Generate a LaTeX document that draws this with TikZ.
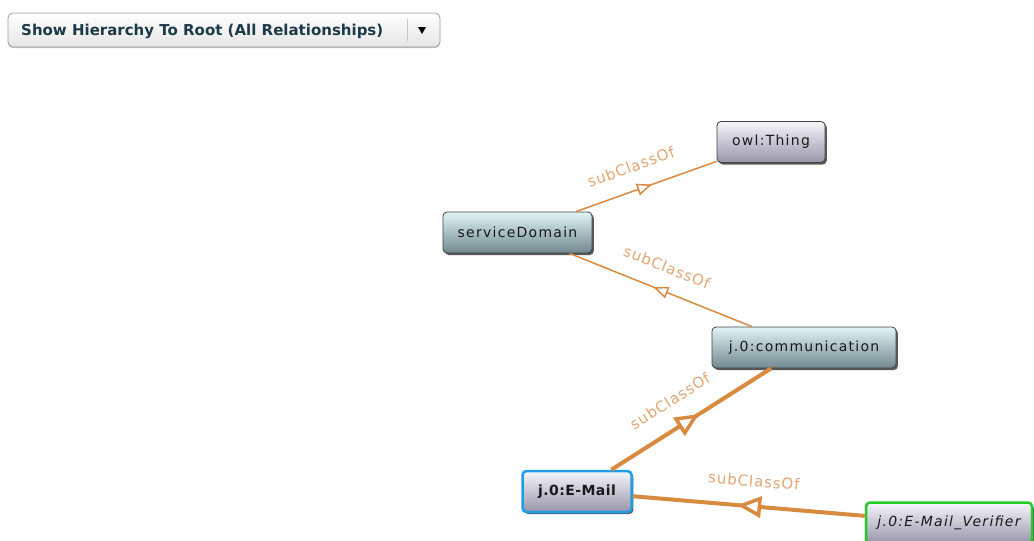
\documentclass[tikz,border=0pt]{standalone}
\usepackage{fontspec}
\setmainfont{DejaVu Sans}
\newfontfamily\nodefont[LetterSpace=9]{DejaVu Sans}
\newfontfamily\boldnodefont[LetterSpace=3]{DejaVu Sans}
\newfontfamily\labfont[LetterSpace=6]{DejaVu Sans}
\usetikzlibrary{arrows.meta,decorations.markings,shadows}
\definecolor{edgeC}{HTML}{D88A3E}
\definecolor{labC}{HTML}{E3A473}
\definecolor{tealTop}{HTML}{E2F5F5}
\definecolor{tealBot}{HTML}{71888F}
\definecolor{lavTop}{HTML}{F6F6FA}
\definecolor{lavBot}{HTML}{9895AB}
\definecolor{btnText}{HTML}{1C3A48}
\definecolor{selBlue}{HTML}{1E9DE8}
\definecolor{selGreen}{HTML}{22CC22}
\tikzset{
  cls/.style={rounded corners=4pt, draw=black!75, line width=0.8pt,
    minimum height=41pt, inner sep=0pt, text=black!90,
    font={\fontsize{14}{16}\nodefont},
    drop shadow={shadow xshift=1.8pt, shadow yshift=-2pt, opacity=0.65, fill=black}},
  tealcls/.style={cls, top color=tealTop, bottom color=tealBot},
  lavcls/.style={cls, top color=lavTop, bottom color=lavBot},
  thinedge/.style={draw=edgeC, line width=1.5pt,
    postaction={decorate, decoration={markings, mark=at position 0.54 with
      {\arrow[line width=1.5pt]{Triangle[open, fill=white, length=15pt, width=12pt]}}}}},
  thickedge/.style={draw=edgeC, line width=4pt,
    postaction={decorate, decoration={markings, mark=at position 0.55 with
      {\arrow[line width=3.5pt]{Triangle[open, fill=white, length=24pt, width=21pt]}}}}},
  edgelab/.style={text=labC, font={\fontsize{15}{17}\labfont}, inner sep=0pt}
}
\begin{document}
\begin{tikzpicture}[x=1pt,y=-1pt]
\useasboundingbox (0,0) rectangle (1034,541);
% toolbar button
\node[rounded corners=5pt, draw=black!38, line width=0.8pt, top color=white, bottom color=black!10,
  minimum width=432pt, minimum height=34pt, inner sep=0pt,
  drop shadow={shadow xshift=0pt, shadow yshift=-1pt, opacity=0.25, fill=black}]
  (btn) at (224,30) {};
\node[anchor=west, text=btnText, font={\fontsize{15}{17}\selectfont\bfseries}, inner sep=0pt]
  (btntext) at (21,31) {Show Hierarchy To Root (All Relationships)};
\draw[black!22, line width=0.8pt] (btn.north west) ++(400,6) coordinate (sepA) -- ++(0,22) coordinate (sepB);
\fill[black] (btn.center) ++(194,-3) coordinate (triA) -- ++(8,0) -- ++(-4,7) -- cycle;
% nodes
\node[lavcls, minimum width=108pt] (thing) at (771,142) {owl:Thing};
\node[tealcls, minimum width=149pt] (sd) at (517.5,232.5) {serviceDomain};
\node[tealcls, minimum width=184pt] (comm) at (804,347.5) {j.0:communication};
\node[lavcls, minimum width=109pt, draw=selBlue, line width=2.5pt,
  font={\fontsize{14}{16}\boldnodefont\bfseries}] (mail) at (577,491.5) {j.0:E-Mail};
\node[lavcls, minimum width=166pt, draw=selGreen, line width=2.5pt,
  font={\fontsize{14}{16}\nodefont\itshape}] (ver) at (949,523) {j.0:E-Mail\_Verifier};
% edges
\path[thinedge] (sd) -- (thing);
\path[thinedge] (comm) -- (sd);
\path[thickedge] (mail) -- (comm);
\path[thickedge] (ver) -- (mail);
% labels
\node[edgelab, rotate=20] (l1) at (631,167) {subClassOf};
\node[edgelab, rotate=-21.8] (l2) at (667,267) {subClassOf};
\node[edgelab, rotate=32.4] (l3) at (670,401) {subClassOf};
\node[edgelab, rotate=-4.6] (l4) at (754,481) {subClassOf};
\end{tikzpicture}
\end{document}
